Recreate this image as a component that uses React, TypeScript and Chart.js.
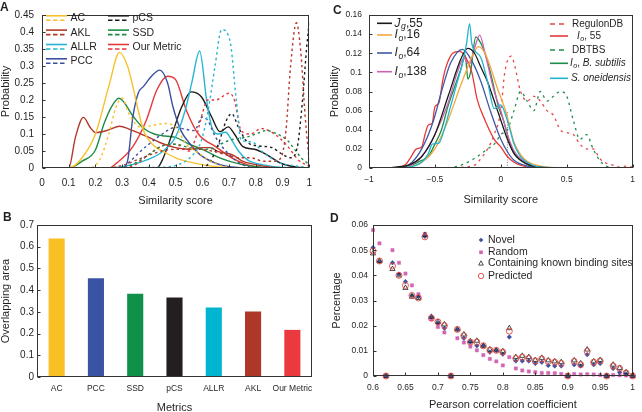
import React, { useEffect, useRef } from 'react';
import { Chart, registerables } from 'chart.js';

Chart.register(...registerables);

const FONT = "'Liberation Sans', Arial, Helvetica, sans-serif";
const NARROW = "'Liberation Sans Narrow', 'Liberation Sans', Arial, sans-serif";
const INK = '#231f20';

// ---------------- Panel A : similarity score distributions ----------------
const acSolidX = [0, 0.1, 0.15, 0.2, 0.25, 0.29, 0.32, 0.34, 0.36, 0.38, 0.42, 0.45, 0.5, 0.55, 0.6, 0.65, 0.7, 1];
const acSolidY = [0, 0, 0.03, 0.1, 0.24, 0.34, 0.3, 0.24, 0.17, 0.11, 0.065, 0.05, 0.03, 0.018, 0.01, 0.004, 0.001, 0];
const acDashX = [0, 0.17, 0.215, 0.25, 0.277, 0.3, 0.325, 0.37, 0.4, 0.46, 0.5, 0.54, 0.585, 0.647, 0.72, 1];
const acDashY = [0, 0, 0.023, 0.1, 0.18, 0.205, 0.16, 0.12, 0.123, 0.131, 0.12, 0.07, 0.044, 0.014, 0, 0];
const aklSolidX = [0, 0.1, 0.125, 0.155, 0.18, 0.2, 0.25, 0.29, 0.34, 0.4, 0.45, 0.5, 0.55, 0.6, 0.63, 0.66, 0.7, 0.72, 0.75, 0.8, 0.85, 0.9, 1];
const aklSolidY = [0, 0, 0.09, 0.149, 0.12, 0.104, 0.112, 0.123, 0.11, 0.09, 0.072, 0.06, 0.055, 0.06, 0.06, 0.048, 0.042, 0.036, 0.02, 0.01, 0.003, 0, 0];
const aklDashX = [0, 0.24, 0.31, 0.375, 0.46, 0.52, 0.585, 0.635, 0.685, 0.735, 0.78, 0.83, 0.87, 0.894, 0.913, 0.93, 0.952, 0.968, 0.985, 1];
const aklDashY = [0, 0, 0.01, 0.03, 0.052, 0.055, 0.055, 0.05, 0.04, 0.03, 0.03, 0.02, 0.02, 0.03, 0.11, 0.297, 0.427, 0.346, 0.15, 0.02];
const allrSolidX = [0, 0.25, 0.31, 0.39, 0.45, 0.5, 0.536, 0.56, 0.59, 0.616, 0.635, 0.66, 0.687, 0.71, 0.735, 0.77, 0.83, 0.89, 1];
const allrSolidY = [0, 0, 0.005, 0.023, 0.048, 0.092, 0.17, 0.249, 0.344, 0.2, 0.121, 0.1, 0.105, 0.082, 0.05, 0.023, 0.009, 0.002, 0];
const allrDashX = [0, 0.44, 0.51, 0.56, 0.597, 0.622, 0.647, 0.672, 0.703, 0.727, 0.745, 0.783, 0.832, 0.894, 0.95, 1];
const allrDashY = [0, 0.002, 0.01, 0.035, 0.082, 0.17, 0.297, 0.407, 0.376, 0.2, 0.082, 0.077, 0.043, 0.014, 0.006, 0];
const pccSolidX = [0, 0.3, 0.32, 0.34, 0.36, 0.38, 0.41, 0.44, 0.47, 0.49, 0.52, 0.55, 0.59, 0.65, 0.7, 0.8, 1];
const pccSolidY = [0, 0, 0.02, 0.15, 0.22, 0.24, 0.27, 0.288, 0.25, 0.18, 0.11, 0.075, 0.04, 0.014, 0.004, 0, 0];
const pccDashX = [0, 0.3, 0.33, 0.37, 0.4, 0.45, 0.5, 0.53, 0.57, 0.6, 0.62, 0.65, 0.7, 0.75, 0.8, 1];
const pccDashY = [0, 0, 0.02, 0.05, 0.07, 0.1, 0.12, 0.115, 0.11, 0.15, 0.14, 0.09, 0.04, 0.01, 0, 0];
const pcsSolidX = [0, 0.43, 0.45, 0.487, 0.523, 0.558, 0.597, 0.635, 0.666, 0.697, 0.72, 0.752, 0.795, 0.832, 0.894, 0.95, 1];
const pcsSolidY = [0, 0, 0.023, 0.1, 0.18, 0.224, 0.209, 0.15, 0.107, 0.121, 0.1, 0.063, 0.055, 0.043, 0.014, 0.003, 0];
const pcsDashX = [0, 0.6, 0.63, 0.66, 0.69, 0.71, 0.735, 0.77, 0.81, 0.86, 0.9, 0.93, 0.955, 0.975, 0.99, 1];
const pcsDashY = [0, 0, 0.02, 0.07, 0.14, 0.16, 0.12, 0.075, 0.065, 0.06, 0.04, 0.03, 0.06, 0.2, 0.35, 0.43];
const ssdSolidX = [0, 0.1, 0.15, 0.2, 0.232, 0.26, 0.288, 0.343, 0.38, 0.42, 0.45, 0.5, 0.55, 0.6, 0.65, 0.7, 0.75, 0.8, 0.9, 1];
const ssdSolidY = [0, 0, 0.02, 0.053, 0.13, 0.18, 0.205, 0.15, 0.117, 0.1, 0.095, 0.09, 0.07, 0.055, 0.035, 0.02, 0.01, 0.004, 0, 0];
const ssdDashX = [0, 0.3, 0.35, 0.4, 0.45, 0.5, 0.55, 0.6, 0.65, 0.68, 0.72, 0.76, 0.8, 0.84, 0.88, 0.92, 0.95, 0.97, 1];
const ssdDashY = [0, 0, 0.015, 0.04, 0.065, 0.07, 0.06, 0.055, 0.06, 0.075, 0.085, 0.09, 0.1, 0.11, 0.1, 0.08, 0.05, 0.03, 0.01];
const oursSolidX = [0, 0.25, 0.28, 0.34, 0.39, 0.43, 0.47, 0.5, 0.54, 0.585, 0.65, 0.71, 0.77, 0.85, 1];
const oursSolidY = [0, 0, 0.015, 0.063, 0.14, 0.23, 0.27, 0.26, 0.17, 0.1, 0.063, 0.03, 0.009, 0, 0];
const oursDashX = [0, 0.3, 0.35, 0.4, 0.45, 0.5, 0.55, 0.58, 0.6, 0.62, 0.65, 0.7, 0.72, 0.745, 0.78, 0.82, 0.87, 0.92, 0.96, 1];
const oursDashY = [0, 0, 0.01, 0.04, 0.065, 0.07, 0.05, 0.1, 0.16, 0.2, 0.2, 0.22, 0.2, 0.11, 0.1, 0.116, 0.1, 0.063, 0.023, 0.005];

const aMetricNames = ['AC', 'AKL', 'ALLR', 'PCC', 'pCS', 'SSD', 'Our Metric'];
const aColors = ['#f6c12c', '#b3392b', '#27b6d2', '#3b4f9f', '#1d1d1d', '#1e8c47', '#e5383b'];

// ---------------- Panel B : overlapping area ----------------
const bCategories = ['AC', 'PCC', 'SSD', 'pCS', 'ALLR', 'AKL', 'Our Metric'];
const bValues = [0.638, 0.455, 0.383, 0.366, 0.32, 0.302, 0.217];
const bColors = ['#f8c022', '#3a54a3', '#0f914a', '#231f20', '#00b5cf', '#ae3727', '#ea3a3f'];

// ---------------- Panel C : similarity score by dataset ----------------
const cJgX = [-1, -0.9, -0.8, -0.7, -0.6, -0.5, -0.4, -0.3, -0.25, -0.2, -0.15, -0.1, -0.05, 0, 0.05, 0.1, 0.2, 0.3, 0.5, 1];
const cJgY = [0, 0, 0.001, 0.003, 0.012, 0.035, 0.075, 0.115, 0.125, 0.12, 0.105, 0.09, 0.07, 0.05, 0.03, 0.015, 0.004, 0.001, 0, 0];
const cIo16X = [-1, -0.8, -0.7, -0.6, -0.5, -0.4, -0.3, -0.2, -0.17, -0.12, -0.08, -0.03, 0.04, 0.1, 0.15, 0.2, 0.3, 0.5, 1];
const cIo16Y = [0, 0, 0.001, 0.006, 0.02, 0.05, 0.088, 0.122, 0.127, 0.12, 0.106, 0.085, 0.058, 0.027, 0.014, 0.007, 0.002, 0, 0];
const cIo64X = [-1, -0.8, -0.7, -0.6, -0.51, -0.45, -0.38, -0.29, -0.22, -0.15, -0.08, 0, 0.05, 0.1, 0.2, 0.3, 1];
const cIo64Y = [0, 0, 0.003, 0.02, 0.05, 0.08, 0.11, 0.124, 0.112, 0.09, 0.06, 0.03, 0.017, 0.008, 0.002, 0, 0];
const cIo138X = [-1, -0.8, -0.7, -0.6, -0.5, -0.4, -0.33, -0.28, -0.24, -0.2, -0.16, -0.12, -0.05, 0, 0.05, 0.1, 0.2, 0.3, 1];
const cIo138Y = [0, 0, 0.002, 0.012, 0.035, 0.068, 0.1, 0.115, 0.108, 0.125, 0.139, 0.12, 0.08, 0.06, 0.035, 0.018, 0.005, 0, 0];
const cIo55X = [-1, -0.8, -0.72, -0.68, -0.64, -0.6, -0.575, -0.55, -0.52, -0.5, -0.47, -0.44, -0.415, -0.365, -0.316, -0.267, -0.22, -0.18, -0.12, -0.05, 0, 0.05, 0.1, 0.2, 0.3, 1];
const cIo55Y = [0, 0, 0.004, 0.012, 0.02, 0.022, 0.035, 0.045, 0.047, 0.064, 0.068, 0.092, 0.106, 0.12, 0.122, 0.116, 0.1, 0.072, 0.05, 0.03, 0.022, 0.012, 0.006, 0.001, 0, 0];
const cBsubX = [-1, -0.8, -0.7, -0.6, -0.55, -0.5, -0.45, -0.4, -0.35, -0.3, -0.27, -0.25, -0.23, -0.19, -0.15, -0.12, -0.07, -0.02, 0.02, 0.06, 0.1, 0.2, 0.3, 1];
const cBsubY = [0, 0, 0.002, 0.008, 0.012, 0.025, 0.04, 0.065, 0.085, 0.105, 0.118, 0.093, 0.1, 0.137, 0.13, 0.12, 0.095, 0.065, 0.05, 0.03, 0.016, 0.004, 0, 0];
const cSoneX = [-1, -0.8, -0.7, -0.6, -0.55, -0.52, -0.47, -0.43, -0.38, -0.33, -0.29, -0.26, -0.237, -0.22, -0.2, -0.15, -0.1, -0.05, 0, 0.03, 0.07, 0.1, 0.15, 0.2, 0.3, 1];
const cSoneY = [0, 0, 0.001, 0.006, 0.015, 0.025, 0.026, 0.04, 0.065, 0.09, 0.11, 0.13, 0.151, 0.13, 0.123, 0.115, 0.09, 0.062, 0.066, 0.058, 0.04, 0.025, 0.012, 0.006, 0.001, 0];
const cRegX = [-0.4, -0.2, -0.15, -0.1, -0.05, 0, 0.03, 0.079, 0.1, 0.15, 0.2, 0.25, 0.3, 0.35, 0.4, 0.45, 0.5, 0.55, 0.6, 0.65, 0.7, 0.75, 0.8, 0.85, 0.9, 0.95, 1];
const cRegY = [0, 0.003, 0.01, 0.02, 0.035, 0.06, 0.1, 0.117, 0.11, 0.08, 0.07, 0.075, 0.07, 0.06, 0.055, 0.04, 0.037, 0.035, 0.025, 0.02, 0.02, 0.01, 0.005, 0.003, 0.001, 0.002, 0.001];
const cDbtX = [-0.4, -0.3, -0.2, -0.1, -0.05, 0, 0.05, 0.1, 0.15, 0.2, 0.25, 0.3, 0.35, 0.4, 0.45, 0.5, 0.55, 0.6, 0.65, 0.7, 0.75, 0.8, 0.9, 1];
const cDbtY = [0, 0.003, 0.01, 0.02, 0.025, 0.035, 0.04, 0.06, 0.08, 0.07, 0.06, 0.08, 0.07, 0.075, 0.08, 0.075, 0.05, 0.03, 0.035, 0.02, 0.008, 0.002, 0, 0];
const cMarkX = [0.05, 0.05];
const cMarkY = [0, 0.06];

// ---------------- Panel D : Pearson correlation coefficient ----------------
const dX = [0.6, 0.61, 0.62, 0.63, 0.64, 0.65, 0.66, 0.67, 0.68, 0.69, 0.7, 0.71, 0.72, 0.73, 0.74, 0.75, 0.76, 0.77, 0.78, 0.79, 0.8, 0.81, 0.82, 0.83, 0.84, 0.85, 0.86, 0.87, 0.88, 0.89, 0.9, 0.91, 0.92, 0.93, 0.94, 0.95, 0.96, 0.97, 0.98, 0.99, 1.0];
const dNovel = [0.051, 0.0455, 0, 0.045, 0.0405, 0.0375, 0.032, 0.0315, 0.0555, 0.0235, 0.021, 0.019, 0, 0.0185, 0.015, 0.0135, 0.012, 0.012, 0.0095, 0.0102, 0.0087, 0.0155, 0.006, 0.006, 0.006, 0.005, 0.0055, 0.0042, 0.004, 0.004, 0, 0.0045, 0.004, 0.0085, 0.0045, 0.005, 0, 0.003, 0.0015, 0.0008, 0];
const dRandom = [0.058, 0.0527, 0, 0.05, 0.045, 0.0407, 0.036, 0.0325, 0.0565, 0.0225, 0.0195, 0.0173, 0, 0.015, 0.0133, 0.0117, 0.0102, 0.0083, 0.0068, 0.0058, 0.0042, 0.0075, 0.003, 0.0022, 0.0018, 0.0015, 0.0012, 0.0012, 0.0011, 0.0008, 0.0003, 0.0008, 0.0006, 0.0007, 0.0006, 0.0004, 0.0002, 0.0004, 0.0003, 0.0002, 0];
const dKnown = [0.0487, 0.0457, 0, 0.0425, 0.04, 0.035, 0.0315, 0.031, 0.056, 0.0235, 0.0215, 0.0205, 0, 0.0185, 0.0165, 0.0138, 0.014, 0.012, 0.0105, 0.0102, 0.0098, 0.019, 0.0075, 0.008, 0.0075, 0.0063, 0.0072, 0.0062, 0.0058, 0.0055, 0, 0.0062, 0.005, 0.0105, 0.0058, 0.0063, 0, 0.0045, 0.0032, 0.0015, 0];
const dPredicted = [0.0497, 0.0457, 0, 0.0437, 0.04, 0.036, 0.032, 0.031, 0.0553, 0.023, 0.0215, 0.02, 0, 0.0185, 0.016, 0.0135, 0.0135, 0.012, 0.0103, 0.0102, 0.0095, 0.0178, 0.007, 0.0075, 0.007, 0.006, 0.0068, 0.0058, 0.0055, 0.005, 0, 0.0058, 0.0045, 0.0098, 0.0055, 0.006, 0, 0.004, 0.003, 0.0012, 0];

// ---------------- helpers ----------------
const pts = (xs: number[], ys: number[]) => xs.map((x, i) => ({ x, y: ys[i] }));
const fmt = (v: any) => {
  const r = parseFloat(Number(v).toFixed(3));
  return r < 0 ? '\u2212' + Math.abs(r) : String(r);
};

type Part = { t: string; it?: boolean; sub?: boolean };
function rich(ctx: CanvasRenderingContext2D, x: number, y: number, parts: Part[], size: number) {
  let cx = x;
  for (const p of parts) {
    const sz = p.sub ? size * 0.72 : size;
    ctx.font = `${p.it ? 'italic ' : ''}${sz}px ${FONT}`;
    ctx.fillText(p.t, cx, y + (p.sub ? size * 0.3 : 0));
    cx += ctx.measureText(p.t).width + (p.it && !p.sub ? size * 0.05 : 0);
  }
}

function framePlugin(letter: string, lx: number, ly: number, xTicks: boolean, extra?: (ctx: CanvasRenderingContext2D, chart: any) => void) {
  return {
    id: 'frame' + letter,
    afterDraw(chart: any) {
      const { ctx, chartArea: a } = chart;
      ctx.save();
      const L = Math.round(a.left) + 0.5, T = Math.round(a.top) + 0.5;
      const R = Math.round(a.right) - 0.5, B = Math.round(a.bottom) - 0.5;
      ctx.strokeStyle = '#333';
      ctx.lineWidth = 1;
      ctx.strokeRect(L, T, R - L, B - T);
      ctx.beginPath();
      const ys = chart.scales.y;
      ys.ticks.forEach((t: any) => {
        const p = Math.round(ys.getPixelForValue(t.value)) + 0.5;
        ctx.moveTo(L, p); ctx.lineTo(L + 3, p);
      });
      if (xTicks) {
        const xs = chart.scales.x;
        xs.ticks.forEach((t: any) => {
          const p = Math.round(xs.getPixelForValue(t.value)) + 0.5;
          ctx.moveTo(p, B); ctx.lineTo(p, B - 3);
        });
      }
      ctx.stroke();
      ctx.fillStyle = INK;
      ctx.font = `bold 12px ${FONT}`;
      ctx.textAlign = 'left';
      ctx.textBaseline = 'alphabetic';
      ctx.fillText(letter, lx, ly);
      if (extra) extra(ctx, chart);
      ctx.restore();
    },
  };
}

const tickFont = (size: number, family = FONT) => ({ size, family });
const titleCfg = (text: string, size: number, pad: number, lh = 1) => ({
  display: true, text, color: INK, font: { size, family: FONT, lineHeight: lh }, padding: { top: pad, bottom: pad },
});

// ---------------- chart configs ----------------
function makeA(): any {
  const xs = [acSolidX, aklSolidX, allrSolidX, pccSolidX, pcsSolidX, ssdSolidX, oursSolidX];
  const ys = [acSolidY, aklSolidY, allrSolidY, pccSolidY, pcsSolidY, ssdSolidY, oursSolidY];
  const dxs = [acDashX, aklDashX, allrDashX, pccDashX, pcsDashX, ssdDashX, oursDashX];
  const dys = [acDashY, aklDashY, allrDashY, pccDashY, pcsDashY, ssdDashY, oursDashY];
  const datasets: any[] = [];
  aMetricNames.forEach((n, i) => {
    datasets.push({ label: n + ' (dashed)', data: pts(dxs[i], dys[i]), borderColor: aColors[i], borderWidth: 1.4, borderDash: [2.5, 3], pointRadius: 0, cubicInterpolationMode: 'monotone', fill: false });
  });
  aMetricNames.forEach((n, i) => {
    datasets.push({ label: n, data: pts(xs[i], ys[i]), borderColor: aColors[i], borderWidth: 1.4, pointRadius: 0, cubicInterpolationMode: 'monotone', fill: false });
  });
  const legendPos = [
    { x: 46, y: 18 }, { x: 46, y: 32.3 }, { x: 46, y: 46.7 }, { x: 46, y: 61 },
    { x: 108, y: 18 }, { x: 108, y: 32.3 }, { x: 108, y: 46.7 },
  ];
  const legend = (ctx: CanvasRenderingContext2D) => {
    aMetricNames.forEach((name, i) => {
      const p = legendPos[i];
      ctx.strokeStyle = aColors[i];
      ctx.lineWidth = 1.6;
      ctx.setLineDash([]);
      ctx.beginPath(); ctx.moveTo(p.x, p.y - 2.2); ctx.lineTo(p.x + 21, p.y - 2.2); ctx.stroke();
      ctx.setLineDash([4.5, 2.5]);
      ctx.beginPath(); ctx.moveTo(p.x, p.y + 2.3); ctx.lineTo(p.x + 21, p.y + 2.3); ctx.stroke();
      ctx.setLineDash([]);
      ctx.fillStyle = INK;
      ctx.font = `10.5px ${FONT}`;
      ctx.textBaseline = 'middle';
      ctx.fillText(name, p.x + 24.5, p.y + 0.5);
    });
  };
  return {
    type: 'line',
    data: { datasets },
    options: {
      animation: false, responsive: false, events: [],
      layout: { padding: { left: 0, top: 15, right: 9, bottom: 0 } },
      plugins: { legend: { display: false }, tooltip: { enabled: false } },
      scales: {
        x: {
          type: 'linear', min: 0, max: 1,
          ticks: { stepSize: 0.1, padding: 9, color: INK, font: tickFont(10), maxRotation: 0, autoSkip: false, callback: fmt },
          grid: { display: false, drawTicks: false }, border: { display: false },
          title: titleCfg('Similarity score', 11, 0),
          afterFit: (s: any) => { s.height = 206 - 168; },
        },
        y: {
          type: 'linear', min: 0, max: 0.45,
          ticks: { stepSize: 0.05, padding: 8, color: INK, font: tickFont(10), autoSkip: false, callback: fmt },
          grid: { display: false, drawTicks: false }, border: { display: false },
          title: titleCfg('Probability', 11, 0),
          afterFit: (s: any) => { s.width = 42; },
        },
      },
    },
    plugins: [framePlugin('A', 0, 11, true, legend)],
  };
}

function makeB(): any {
  return {
    type: 'bar',
    data: {
      labels: bCategories,
      datasets: [{ label: 'Overlapping area', data: bValues, backgroundColor: bColors, borderWidth: 0, barPercentage: 0.41, categoryPercentage: 1 }],
    },
    options: {
      animation: false, responsive: false, events: [],
      layout: { padding: { left: 0, top: 19, right: 9, bottom: 0 } },
      plugins: { legend: { display: false }, tooltip: { enabled: false } },
      scales: {
        x: {
          ticks: { padding: 7, color: INK, font: tickFont(8.5, NARROW), maxRotation: 0, autoSkip: false },
          grid: { display: false, drawTicks: false }, border: { display: false },
          title: titleCfg('Metrics', 11, 0, 0.8),
          afterFit: (s: any) => { s.height = 206 - 171; },
        },
        y: {
          min: 0, max: 0.7,
          ticks: { stepSize: 0.1, padding: 3, color: INK, font: tickFont(10), autoSkip: false, callback: fmt },
          grid: { display: false, drawTicks: false }, border: { display: false },
          title: titleCfg('Overlapping area', 11, 0),
          afterFit: (s: any) => { s.width = 37; },
        },
      },
    },
    plugins: [framePlugin('B', 3, 15, false)],
  };
}

function makeC(): any {
  const solid = [
    { n: 'S. oneidensis', x: cSoneX, y: cSoneY, c: '#22b5d0' },
    { n: 'Jg,55', x: cJgX, y: cJgY, c: '#1a1a1a' },
    { n: 'Io,16', x: cIo16X, y: cIo16Y, c: '#f5a83a' },
    { n: 'Io,64', x: cIo64X, y: cIo64Y, c: '#3f58a8' },
    { n: 'Io,138', x: cIo138X, y: cIo138Y, c: '#cf62b4' },
    { n: 'Io,55', x: cIo55X, y: cIo55Y, c: '#e53a36' },
    { n: 'Io, B. subtilis', x: cBsubX, y: cBsubY, c: '#1c8e45' },
  ];
  const datasets: any[] = solid.map((s) => ({
    label: s.n, data: pts(s.x, s.y), borderColor: s.c, borderWidth: 1.3, pointRadius: 0, cubicInterpolationMode: 'monotone', fill: false,
  }));
  datasets.push({ label: 'RegulonDB', data: pts(cRegX, cRegY), borderColor: '#e5484a', borderWidth: 1.3, borderDash: [2.5, 4], pointRadius: 0, cubicInterpolationMode: 'monotone' });
  datasets.push({ label: 'DBTBS', data: pts(cDbtX, cDbtY), borderColor: '#1f8e4c', borderWidth: 1.3, borderDash: [2.5, 4], pointRadius: 0, cubicInterpolationMode: 'monotone' });
  datasets.push({ label: 'marker', data: pts(cMarkX, cMarkY), borderColor: '#666', borderWidth: 0.8, borderDash: [1, 1.5], pointRadius: 0 });

  const legend = (ctx: CanvasRenderingContext2D) => {
    ctx.textBaseline = 'middle';
    ctx.fillStyle = INK;
    const left: { y: number; c: string; parts: Part[] }[] = [
      { y: 23.3, c: '#1a1a1a', parts: [{ t: 'J', it: true }, { t: 'g', it: true, sub: true }, { t: ',55' }] },
      { y: 35, c: '#f5a83a', parts: [{ t: 'I', it: true }, { t: 'o', it: true, sub: true }, { t: ',16' }] },
      { y: 53, c: '#3f58a8', parts: [{ t: 'I', it: true }, { t: 'o', it: true, sub: true }, { t: ',64' }] },
      { y: 71.7, c: '#cf62b4', parts: [{ t: 'I', it: true }, { t: 'o', it: true, sub: true }, { t: ',138' }] },
    ];
    left.forEach((r) => {
      ctx.strokeStyle = r.c; ctx.lineWidth = 1.6; ctx.setLineDash([]);
      ctx.beginPath(); ctx.moveTo(56, r.y); ctx.lineTo(71, r.y); ctx.stroke();
      ctx.fillStyle = INK;
      rich(ctx, 73.5, r.y, r.parts, 12);
    });
    const right: { y: number; c: string; dash: boolean; tx: number; parts: Part[] }[] = [
      { y: 24, c: '#e5484a', dash: true, tx: 251, parts: [{ t: 'RegulonDB' }] },
      { y: 36, c: '#e53a36', dash: false, tx: 256, parts: [{ t: 'I', it: true }, { t: 'o', it: true, sub: true }, { t: ', 55' }] },
      { y: 50, c: '#1f8e4c', dash: true, tx: 251, parts: [{ t: 'DBTBS' }] },
      { y: 63.3, c: '#1c8e45', dash: false, tx: 249, parts: [{ t: 'I', it: true }, { t: 'o', it: true, sub: true }, { t: ', ' }, { t: 'B. subtilis', it: true }] },
      { y: 78.3, c: '#22b5d0', dash: false, tx: 250, parts: [{ t: 'S. oneidensis', it: true }] },
    ];
    right.forEach((r) => {
      ctx.strokeStyle = r.c; ctx.lineWidth = 1.6;
      ctx.setLineDash(r.dash ? [5, 4] : []);
      ctx.beginPath(); ctx.moveTo(229, r.y); ctx.lineTo(247, r.y); ctx.stroke();
      ctx.setLineDash([]);
      ctx.fillStyle = INK;
      rich(ctx, r.tx, r.y, r.parts, 10);
    });
  };
  return {
    type: 'line',
    data: { datasets },
    options: {
      animation: false, responsive: false, events: [],
      layout: { padding: { left: 0, top: 15, right: 3, bottom: 0 } },
      plugins: { legend: { display: false }, tooltip: { enabled: false } },
      scales: {
        x: {
          type: 'linear', min: -1, max: 1,
          ticks: { stepSize: 0.5, padding: 7, color: INK, font: tickFont(8.5), maxRotation: 0, autoSkip: false, callback: fmt },
          grid: { display: false, drawTicks: false }, border: { display: false },
          title: { ...titleCfg('Similarity score', 11, 0), padding: { top: 0, bottom: 0.5 } },
          afterFit: (s: any) => { s.height = 206 - 168; },
        },
        y: {
          type: 'linear', min: 0, max: 0.16,
          ticks: { stepSize: 0.02, padding: 7, color: INK, font: tickFont(8.5), autoSkip: false, callback: fmt },
          grid: { display: false, drawTicks: false }, border: { display: false },
          title: { ...titleCfg('Probability', 11, 0), padding: { top: 8.5, bottom: 0 } },
          afterFit: (s: any) => { s.width = 48; },
        },
      },
    },
    plugins: [framePlugin('C', 12, 14, true, legend)],
  };
}

function makeD(): any {
  const common = { showLine: false, clip: false, pointHoverRadius: 0 };
  const datasets = [
    { ...common, label: 'Predicted', data: pts(dX, dPredicted), pointStyle: 'circle', pointRadius: 3, pointBorderWidth: 0.9, pointBorderColor: '#e2463c', pointBackgroundColor: 'rgba(255,255,255,0)' },
    { ...common, label: 'Containing known binding sites', data: pts(dX, dKnown), pointStyle: 'triangle', pointRadius: 3, pointBorderWidth: 0.8, pointBorderColor: '#222', pointBackgroundColor: 'rgba(255,255,255,0)' },
    { ...common, label: 'Novel', data: pts(dX, dNovel), pointStyle: 'rectRot', pointRadius: 2.3, pointBorderWidth: 0.5, pointBorderColor: '#3b4fa0', pointBackgroundColor: '#3b4fa0' },
    { ...common, label: 'Random', data: pts(dX, dRandom), pointStyle: 'rect', pointRadius: 2.3, pointBorderWidth: 0.5, pointBorderColor: '#d266b5', pointBackgroundColor: '#d266b5' },
  ];
  const legend = (ctx: CanvasRenderingContext2D) => {
    const mx = 160, tx = 167;
    ctx.textBaseline = 'middle';
    let y = 34;
    ctx.fillStyle = '#3b4fa0';
    ctx.beginPath(); ctx.moveTo(mx, y - 2.3); ctx.lineTo(mx + 2.3, y); ctx.lineTo(mx, y + 2.3); ctx.lineTo(mx - 2.3, y); ctx.closePath(); ctx.fill();
    y = 46.3;
    ctx.fillStyle = '#d266b5';
    ctx.fillRect(mx - 1.8, y - 1.8, 3.6, 3.6);
    y = 57.3;
    ctx.strokeStyle = '#222'; ctx.lineWidth = 0.8;
    ctx.beginPath(); ctx.moveTo(mx, y - 2.5); ctx.lineTo(mx + 2.3, y + 1.8); ctx.lineTo(mx - 2.3, y + 1.8); ctx.closePath(); ctx.stroke();
    y = 70;
    ctx.strokeStyle = '#e2463c'; ctx.lineWidth = 0.9;
    ctx.beginPath(); ctx.arc(mx, y, 2.7, 0, Math.PI * 2); ctx.stroke();
    ctx.fillStyle = INK;
    ctx.font = `10.5px ${FONT}`;
    ctx.fillText('Novel', tx, 34);
    ctx.fillText('Random', tx, 46.3);
    ctx.fillText('Containing known binding sites', tx, 57.6);
    ctx.fillText('Predicted', tx, 70);
  };
  return {
    type: 'scatter',
    data: { datasets },
    options: {
      animation: false, responsive: false, events: [],
      layout: { padding: { left: 0, top: 19, right: 4, bottom: 0 } },
      plugins: { legend: { display: false }, tooltip: { enabled: false } },
      scales: {
        x: {
          type: 'linear', min: 0.6, max: 1,
          ticks: { stepSize: 0.05, padding: 7, color: INK, font: tickFont(8.5), maxRotation: 0, autoSkip: false, callback: fmt },
          grid: { display: false, drawTicks: false }, border: { display: false },
          title: { ...titleCfg('Pearson correlation coefficient', 11, 0), padding: { top: 0, bottom: 1.5 } },
          afterFit: (s: any) => { s.height = 206 - 170; },
        },
        y: {
          type: 'linear', min: 0, max: 0.06,
          ticks: { stepSize: 0.01, padding: 5, color: INK, font: tickFont(8.5), autoSkip: false, callback: fmt },
          grid: { display: false, drawTicks: false }, border: { display: false },
          title: { ...titleCfg('Percentage', 11, 0), padding: { top: 10.5, bottom: 0 } },
          afterFit: (s: any) => { s.width = 52; },
        },
      },
    },
    plugins: [framePlugin('D', 9, 16, true, legend)],
  };
}

function Panel({ left, top, make }: { left: number; top: number; make: () => any }) {
  const ref = useRef<HTMLCanvasElement>(null);
  useEffect(() => {
    const chart = new Chart(ref.current as HTMLCanvasElement, make());
    return () => chart.destroy();
  }, []);
  return (
    <canvas
      ref={ref}
      width={321}
      height={206}
      style={{ position: 'absolute', left, top, width: 321, height: 206, display: 'block' }}
    />
  );
}

export default function App() {
  return (
    <div style={{ position: 'fixed', left: 0, top: 0, width: 642, height: 412, background: '#fff', overflow: 'hidden' }}>
      <Panel left={0} top={0} make={makeA} />
      <Panel left={0} top={206} make={makeB} />
      <Panel left={321} top={0} make={makeC} />
      <Panel left={321} top={206} make={makeD} />
    </div>
  );
}
